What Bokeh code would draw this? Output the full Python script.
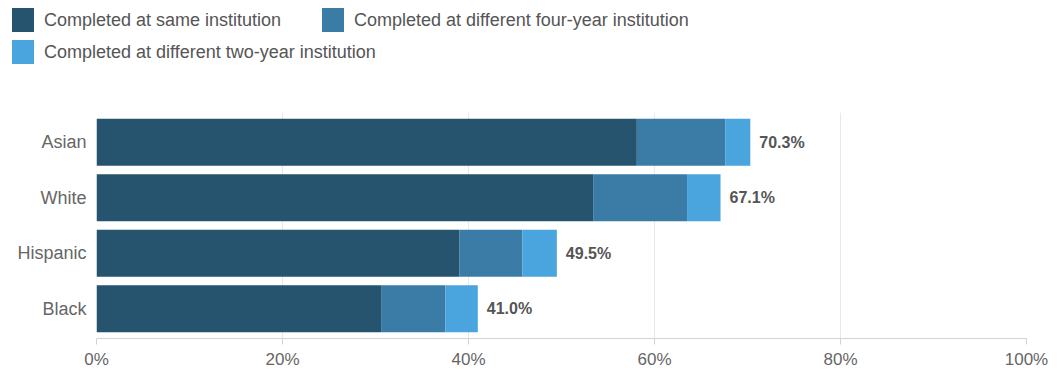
from bokeh.plotting import figure
from bokeh.models import (ColumnDataSource, Range1d, FactorRange, PrintfTickFormatter,
                          FixedTicker, Div)
from bokeh.layouts import column
from bokeh.core.properties import value
from bokeh.embed import file_html
from bokeh.resources import INLINE

# ---- data ----
groups = ["Asian", "White", "Hispanic", "Black"]
same_inst = [58.1, 53.4, 39.0, 30.6]
diff_four_year = [9.5, 10.1, 6.8, 6.9]
diff_two_year = [2.7, 3.6, 3.7, 3.5]
totals = [70.3, 67.1, 49.5, 41.0]
total_labels = ["70.3%", "67.1%", "49.5%", "41.0%"]
series_names = ["Completed at same institution",
                "Completed at different four-year institution",
                "Completed at different two-year institution"]
x_ticks = [0, 20, 40, 60, 80, 100]

colors = ["#26536e", "#3a7ca6", "#4aa5de"]
FONT = "Liberation Sans"

# ---- legend (HTML strip above the chart) ----
LEG_H = 70
legend_pos = [(12, 8), (322, 8), (12, 40)]   # swatch left/top in the strip
parts = []
for name, col, (lx, ty) in zip(series_names, colors, legend_pos):
    parts.append(
        f'<div style="position:absolute;left:{lx}px;top:{ty}px;width:22px;height:24px;'
        f'background:{col};"></div>'
        f'<div style="position:absolute;left:{lx + 32}px;top:{ty}px;height:24px;'
        f'line-height:24px;white-space:nowrap;">{name}</div>')
legend_html = (f'<div style="position:relative;width:1058px;height:{LEG_H}px;'
               f"font-family:'{FONT}';font-size:18px;color:#555555;\">"
               + "".join(parts) + "</div>")
legend_div = Div(text=legend_html, width=1058, height=LEG_H, margin=0)

# ---- main chart ----
source = ColumnDataSource(dict(group=groups, same=same_inst, four=diff_four_year,
                               two=diff_two_year, total=totals, label=total_labels))

p = figure(width=1058, height=371 - LEG_H, output_backend="svg", toolbar_location=None,
           y_range=FactorRange(factors=list(reversed(groups)), range_padding=0.018),
           x_range=Range1d(0, 100),
           min_border_left=96, min_border_right=32, min_border_top=112 - LEG_H,
           min_border_bottom=33, margin=0)
p.outline_line_color = None

p.hbar_stack(["same", "four", "two"], y="group", height=0.85,
             color=colors, line_color=None, source=source)

p.text(x="total", y="group", text="label", source=source, x_offset=9,
       text_baseline="middle", text_align="left", text_font=value(FONT),
       text_font_size="16px", text_font_style="bold", text_color="#555555")

# axes
p.xaxis.ticker = FixedTicker(ticks=x_ticks)
p.xaxis.formatter = PrintfTickFormatter(format="%d%%")
p.xaxis.axis_line_color = "#d3d3d3"
p.xaxis.major_tick_line_color = "#d3d3d3"
p.xaxis.major_tick_out = 6
p.xaxis.major_tick_in = 0
p.xaxis.minor_tick_line_color = None
p.xaxis.major_label_standoff = 5
p.xaxis.major_label_text_font = FONT
p.xaxis.major_label_text_font_size = "17px"
p.xaxis.major_label_text_color = "#666666"

p.yaxis.axis_line_color = None
p.yaxis.major_tick_line_color = None
p.yaxis.minor_tick_line_color = None
p.yaxis.major_tick_out = 0
p.yaxis.major_tick_in = 0
p.yaxis.major_label_standoff = 10
p.yaxis.major_label_text_font = FONT
p.yaxis.major_label_text_font_size = "18px"
p.yaxis.major_label_text_color = "#666666"

p.ygrid.grid_line_color = None
p.xgrid.grid_line_color = "#e8e8e8"
p.xgrid.ticker = FixedTicker(ticks=x_ticks)

layout = column(legend_div, p, spacing=0)
open("out.html", "w").write(file_html(layout, INLINE))
